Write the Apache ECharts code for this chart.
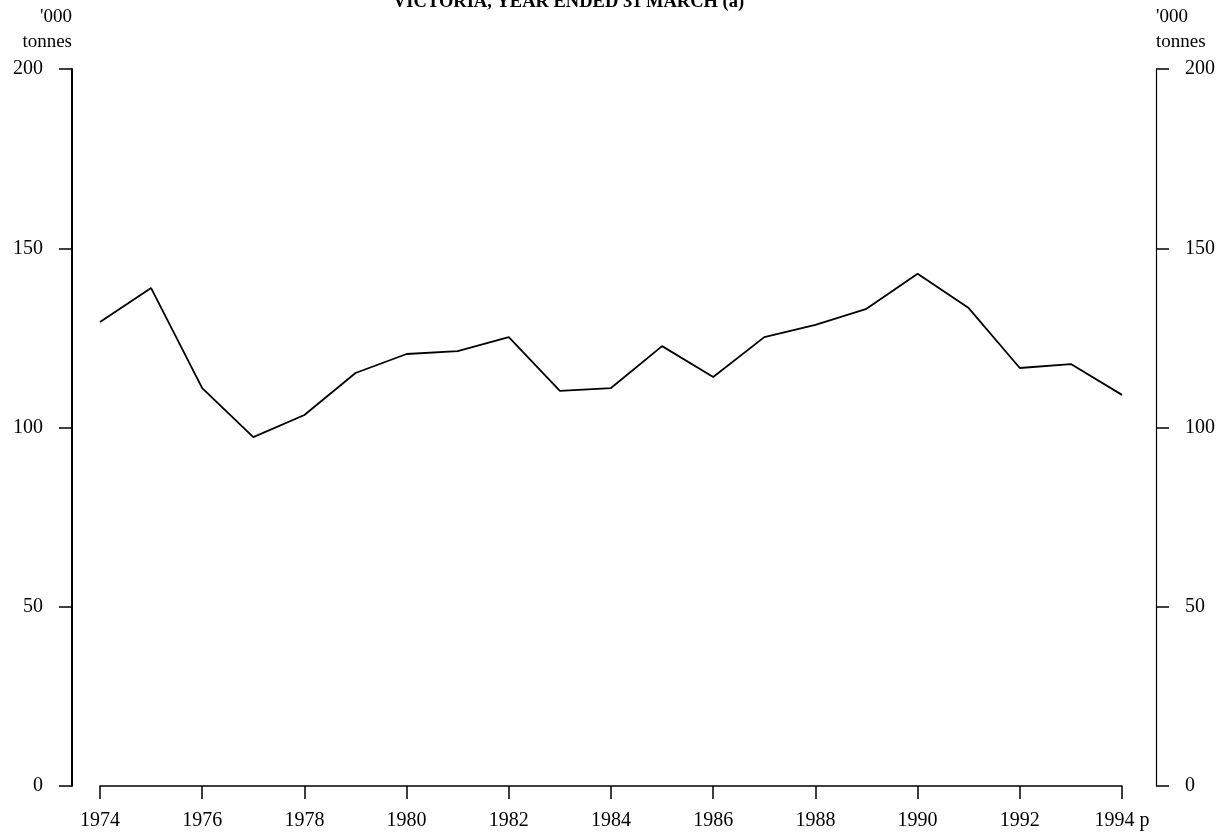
<!DOCTYPE html>
<html>
<head>
<meta charset="utf-8">
<script src="https://cdn.jsdelivr.net/npm/echarts@6/dist/echarts.min.js"></script>
<style>
html,body{margin:0;padding:0;background:#fff;}
#main{width:1228px;height:835px;}
</style>
</head>
<body>
<div id="main"></div>
<script>
var years = ['1974','1975','1976','1977','1978','1979','1980','1981','1982','1983','1984','1985','1986','1987','1988','1989','1990','1991','1992','1993','1994'];
var tonnes = [129.4,138.9,111.0,97.3,103.5,115.2,120.5,121.3,125.2,110.2,111.0,122.7,114.1,125.2,128.6,133.1,142.9,133.3,116.6,117.7,109.1];
var yTicks = [0,50,100,150,200];
var titleText = 'VICTORIA, YEAR ENDED 31 MARCH (a)';
var unitText = "'000\ntonnes";

var serif = 'Liberation Serif';
var chart = echarts.init(document.getElementById('main'), null, {renderer:'canvas'});
function yAxisDef(pos, offset, width, nameAlign){
  return {
    type:'value', position:pos, offset:offset,
    min:yTicks[0], max:yTicks[yTicks.length-1], interval:yTicks[1]-yTicks[0],
    name:unitText, nameLocation:'end', nameGap:14,
    nameTextStyle:{fontFamily:serif, fontSize:19, color:'#000', align:nameAlign, lineHeight:25, verticalAlign:'bottom', padding:[0,0,0,0]},
    axisLine:{show:true, lineStyle:{color:'#000', width:width}},
    axisTick:{show:true, inside:false, length:13, lineStyle:{color:'#000', width:1.5}},
    axisLabel:{show:true, margin:29, fontFamily:serif, fontSize:20, color:'#000'},
    splitLine:{show:false}
  };
}
chart.setOption({
  animation:false,
  backgroundColor:'#fff',
  title:{text:titleText, left:393, top:-7, padding:0,
    textStyle:{fontFamily:serif, fontSize:18.5, fontWeight:'bold', color:'#000'}},
  grid:{left:100, right:106, top:69, bottom:49, containLabel:false},
  xAxis:{
    type:'category', data:years, boundaryGap:false,
    axisLine:{show:true, lineStyle:{color:'#000', width:1.5}},
    axisTick:{show:true, interval:1, length:13, lineStyle:{color:'#000', width:1.5}},
    axisLabel:{interval:1, margin:25, fontFamily:serif, fontSize:20, color:'#000',
      formatter:function(v){ return v==='1994' ? '1994 p' : v; }},
    splitLine:{show:false}
  },
  yAxis:[ yAxisDef('left', 28, 2, 'right'), yAxisDef('right', 34, 1.2, 'left') ],
  series:[{
    type:'line', data:tonnes, yAxisIndex:0,
    showSymbol:false, symbol:'none', smooth:false,
    lineStyle:{color:'#000', width:1.8}
  }]
});
</script>
</body>
</html>
